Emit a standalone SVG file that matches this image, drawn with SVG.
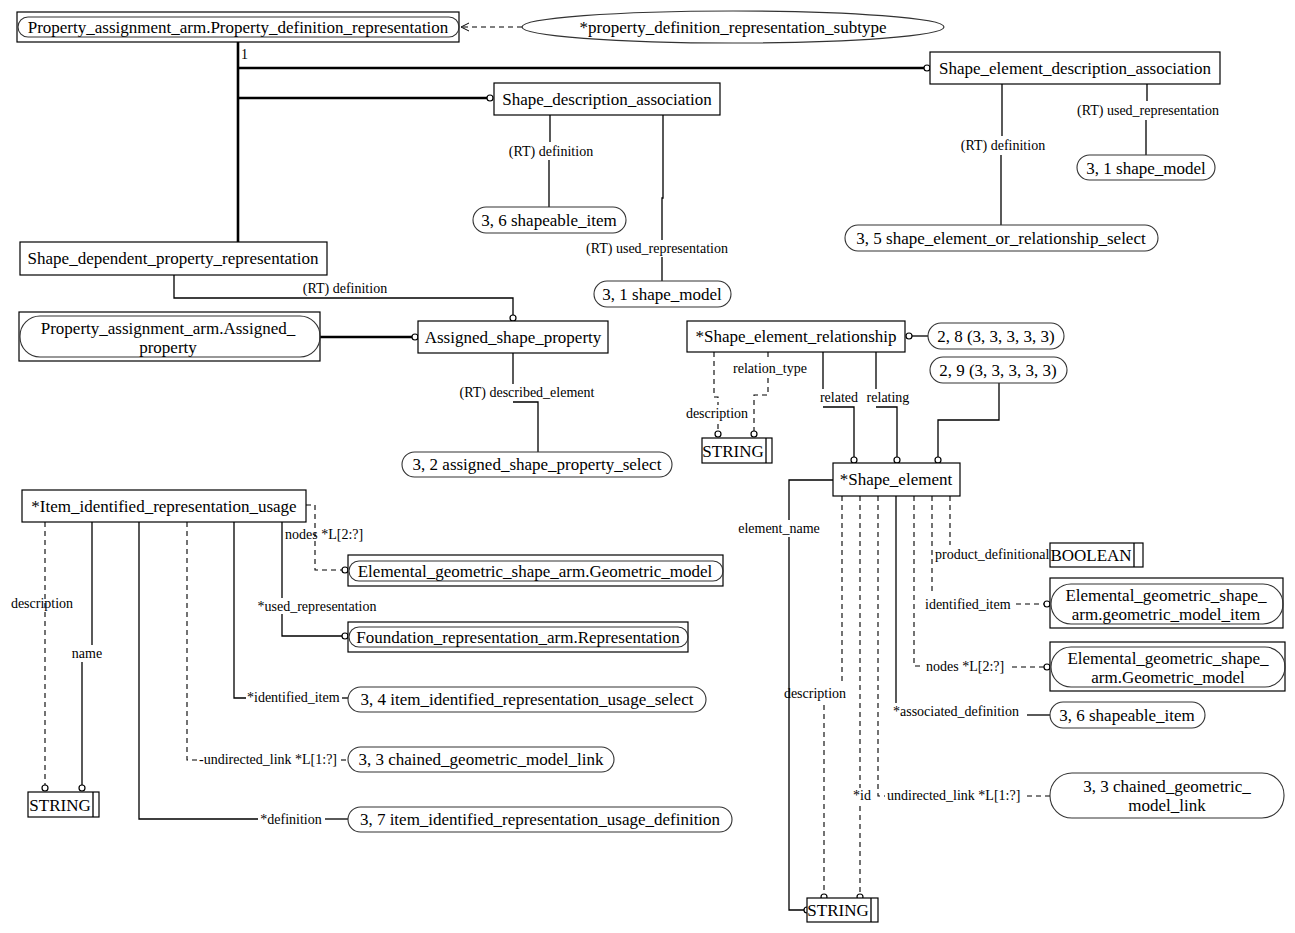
<svg xmlns="http://www.w3.org/2000/svg" width="1295" height="933" viewBox="0 0 1295 933">
<style>
.bg{fill:#fff}
.box{fill:#fff;stroke:#000;stroke-width:1.2}
.pill{fill:none;stroke:#333;stroke-width:1.1}
.t{font-family:"Liberation Serif","Times New Roman",serif;font-size:17px;text-anchor:middle;fill:#000}
.l{font-family:"Liberation Serif","Times New Roman",serif;font-size:14px;fill:#000}
.m{text-anchor:middle}
.s{stroke:#000;fill:none;stroke-width:1.3}
.th{stroke:#000;fill:none;stroke-width:2.6}
.d{stroke:#000;fill:none;stroke-width:1.1;stroke-dasharray:5,4}
.c{fill:#fff;stroke:#000;stroke-width:1.2}
</style>
<defs>
<marker id="arr" viewBox="0 0 10 10" refX="9" refY="5" markerWidth="10" markerHeight="10" orient="auto" markerUnits="userSpaceOnUse">
<path d="M1,1 L9,5 L1,9" fill="none" stroke="#000" stroke-width="1"/>
</marker>
</defs>
<rect class="bg" x="0" y="0" width="1295" height="933"/>

<g id="connectors">
<path class="d" d="M522,27 H461" marker-end="url(#arr)"/>
<path class="th" d="M238,42 V242"/>
<path class="th" d="M238,68 H924"/>
<circle class="c" cx="927" cy="68" r="3"/>
<path class="th" d="M238,98 H487"/>
<circle class="c" cx="490" cy="98" r="3"/>
<text class="l" x="241" y="59">1</text>

<path class="s" d="M550,115 V142"/>
<text class="l m" x="551" y="156">(RT) definition</text>
<path class="s" d="M549,160 V207"/>
<path class="s" d="M663,115 V198 H662 V240"/>
<text class="l m" x="657" y="253">(RT) used_representation</text>
<path class="s" d="M662,257 V281"/>

<path class="s" d="M1002,84 V136"/>
<text class="l m" x="1003" y="150">(RT) definition</text>
<path class="s" d="M1001,155 V225"/>
<path class="s" d="M1147,84 V101"/>
<text class="l m" x="1148" y="115">(RT) used_representation</text>
<path class="s" d="M1146,120 V155"/>

<path class="s" d="M174,275 V298 H513 V315"/>
<circle class="c" cx="513" cy="318" r="3"/>
<text class="l m" x="345" y="293">(RT) definition</text>
<path class="th" d="M320,337 H412"/>
<circle class="c" cx="415" cy="337" r="3"/>
<path class="s" d="M513,353 V384"/>
<text class="l m" x="527" y="397">(RT) described_element</text>
<path class="s" d="M513,402 H538 V452"/>

<circle class="c" cx="909" cy="336" r="3"/>
<path class="s" d="M912,336 H928"/>
<path class="d" d="M714,352 V397 H718 V405"/>
<text class="l m" x="717" y="418">description</text>
<path class="d" d="M718,424 V431"/>
<circle class="c" cx="718" cy="434" r="3"/>
<path class="d" d="M768,352 V361"/>
<text class="l m" x="770" y="373">relation_type</text>
<path class="d" d="M768,378 V395 H754 V431"/>
<circle class="c" cx="754" cy="434" r="3"/>
<path class="s" d="M823,352 V389"/>
<text class="l m" x="839" y="402">related</text>
<path class="s" d="M823,407 H854 V457"/>
<circle class="c" cx="854" cy="460" r="3"/>
<path class="s" d="M876,352 V389"/>
<text class="l m" x="888" y="402">relating</text>
<path class="s" d="M876,407 H897 V457"/>
<circle class="c" cx="897" cy="460" r="3"/>
<path class="s" d="M999,383 V420 H938 V457"/>
<circle class="c" cx="938" cy="460" r="3"/>

<path class="s" d="M833,480 H789 V520"/>
<text class="l m" x="779" y="533">element_name</text>
<path class="s" d="M789,537 V910 H804"/>
<circle class="c" cx="807" cy="910" r="3"/>
<path class="d" d="M842,496 V685"/>
<text class="l m" x="815" y="698">description</text>
<path class="d" d="M824,705 V894"/>
<circle class="c" cx="824" cy="897" r="3"/>
<path class="d" d="M860,496 V788"/>
<text class="l m" x="862" y="800">*id</text>
<path class="d" d="M860,806 V894"/>
<circle class="c" cx="860" cy="897" r="3"/>
<path class="d" d="M878,496 V796 H885"/>
<text class="l" x="887" y="800">undirected_link *L[1:?]</text>
<path class="d" d="M1027,796 H1050"/>
<path class="s" d="M896,496 V703"/>
<text class="l" x="893" y="716">*associated_definition</text>
<path class="s" d="M1027,715 H1050"/>
<path class="d" d="M914,496 V666 H921"/>
<text class="l" x="926" y="671">nodes *L[2:?]</text>
<path class="d" d="M1012,667 H1044"/>
<circle class="c" cx="1047" cy="667" r="3"/>
<path class="d" d="M932,496 V595"/>
<text class="l" x="925" y="609">identified_item</text>
<path class="d" d="M1016,604 H1044"/>
<circle class="c" cx="1047" cy="604" r="3"/>
<path class="d" d="M950,496 V545"/>
<text class="l" x="935" y="559">product_definitional</text>

<path class="d" d="M45,522 V785"/>
<circle class="c" cx="45" cy="788" r="3"/>
<text class="l m" x="42" y="608">description</text>
<path class="s" d="M92,522 V645"/>
<text class="l m" x="87" y="658">name</text>
<path class="s" d="M82,662 V785"/>
<circle class="c" cx="82" cy="788" r="3"/>
<path class="s" d="M139,522 V819 H258"/>
<text class="l m" x="291" y="824">*definition</text>
<path class="s" d="M325,819 H348"/>
<path class="d" d="M187,522 V760 H197"/>
<text class="l" x="199" y="764">-undirected_link *L[1:?]</text>
<path class="d" d="M341,760 H348"/>
<path class="s" d="M234,522 V698 H246"/>
<text class="l" x="247" y="702">*identified_item</text>
<path class="s" d="M342,698 H348"/>
<path class="s" d="M282,522 V598"/>
<text class="l m" x="317" y="611">*used_representation</text>
<path class="s" d="M282,614 V636 H342"/>
<circle class="c" cx="345" cy="636" r="3"/>
<path class="d" d="M306,505 H315 V570 H342"/>
<circle class="c" cx="345" cy="570" r="3"/>
<text class="l" x="285" y="539">nodes *L[2:?]</text>
</g>

<g id="n_pdr">
<rect class="box" x="17" y="12" width="442" height="30"/>
<rect class="pill" x="18" y="17" width="441" height="20" rx="10"/>
<text class="t" x="238" y="33">Property_assignment_arm.Property_definition_representation</text>
</g>
<g id="n_subtype">
<ellipse class="box" cx="733" cy="27" rx="211" ry="16" style="stroke:#333"/>
<text class="t" x="733" y="33">*property_definition_representation_subtype</text>
</g>
<g id="n_seda">
<rect class="box" x="930" y="52" width="290" height="32"/>
<text class="t" x="1075" y="74">Shape_element_description_association</text>
</g>
<g id="n_sda">
<rect class="box" x="494" y="83" width="226" height="32"/>
<text class="t" x="607" y="105">Shape_description_association</text>
</g>
<g id="n_si1">
<rect class="pill" x="473" y="207" width="153" height="26" rx="13"/>
<text class="t" x="549" y="226">3, 6 shapeable_item</text>
</g>
<g id="n_sm1">
<rect class="pill" x="594" y="281" width="137" height="26" rx="13"/>
<text class="t" x="662" y="300">3, 1 shape_model</text>
</g>
<g id="n_sm2">
<rect class="pill" x="1077" y="155" width="138" height="25" rx="12.5"/>
<text class="t" x="1146" y="174">3, 1 shape_model</text>
</g>
<g id="n_seors">
<rect class="pill" x="845" y="225" width="313" height="26" rx="13"/>
<text class="t" x="1001" y="244">3, 5 shape_element_or_relationship_select</text>
</g>
<g id="n_sdpr">
<rect class="box" x="20" y="242" width="307" height="33"/>
<text class="t" x="173" y="264">Shape_dependent_property_representation</text>
</g>
<g id="n_pap">
<rect class="box" x="19" y="312" width="301" height="49"/>
<rect class="pill" x="20" y="316" width="300" height="41" rx="20"/>
<text class="t" x="168" y="334">Property_assignment_arm.Assigned_</text>
<text class="t" x="168" y="353">property</text>
</g>
<g id="n_asp">
<rect class="box" x="418" y="321" width="190" height="32"/>
<text class="t" x="513" y="343">Assigned_shape_property</text>
</g>
<g id="n_asps">
<rect class="pill" x="402" y="452" width="270" height="25" rx="12.5"/>
<text class="t" x="537" y="470">3, 2 assigned_shape_property_select</text>
</g>
<g id="n_ser">
<rect class="box" x="687" y="321" width="218" height="31"/>
<text class="t" x="796" y="342">*Shape_element_relationship</text>
</g>
<g id="n_28">
<rect class="pill" x="928" y="323" width="136" height="26" rx="13"/>
<text class="t" x="996" y="342">2, 8 (3, 3, 3, 3, 3)</text>
</g>
<g id="n_29">
<rect class="pill" x="930" y="357" width="137" height="26" rx="13"/>
<text class="t" x="998" y="376">2, 9 (3, 3, 3, 3, 3)</text>
</g>
<g id="n_str1">
<rect class="box" x="702" y="438" width="70" height="25"/>
<line class="s" x1="766" y1="438" x2="766" y2="463"/>
<text class="t" x="733" y="457">STRING</text>
</g>
<g id="n_se">
<rect class="box" x="833" y="463" width="127" height="33"/>
<text class="t" x="896" y="485">*Shape_element</text>
</g>
<g id="n_bool">
<rect class="box" x="1050" y="543" width="93" height="24"/>
<line class="s" x1="1134" y1="543" x2="1134" y2="567"/>
<text class="t" x="1091" y="561">BOOLEAN</text>
</g>
<g id="n_gmi">
<rect class="box" x="1050" y="578" width="233" height="50"/>
<rect class="pill" x="1051" y="584" width="232" height="40" rx="20"/>
<text class="t" x="1166" y="601">Elemental_geometric_shape_</text>
<text class="t" x="1166" y="620">arm.geometric_model_item</text>
</g>
<g id="n_gm2">
<rect class="box" x="1050" y="642" width="235" height="49"/>
<rect class="pill" x="1051" y="647" width="234" height="40" rx="20"/>
<text class="t" x="1168" y="664">Elemental_geometric_shape_</text>
<text class="t" x="1168" y="683">arm.Geometric_model</text>
</g>
<g id="n_si2">
<rect class="pill" x="1050" y="702" width="155" height="26" rx="13"/>
<text class="t" x="1127" y="721">3, 6 shapeable_item</text>
</g>
<g id="n_cgml2">
<rect class="pill" x="1050" y="773" width="234" height="45" rx="22"/>
<text class="t" x="1167" y="792">3, 3 chained_geometric_</text>
<text class="t" x="1167" y="811">model_link</text>
</g>
<g id="n_str2">
<rect class="box" x="807" y="898" width="71" height="24"/>
<line class="s" x1="871" y1="898" x2="871" y2="922"/>
<text class="t" x="838" y="916">STRING</text>
</g>
<g id="n_iiru">
<rect class="box" x="22" y="490" width="284" height="32"/>
<text class="t" x="164" y="512">*Item_identified_representation_usage</text>
</g>
<g id="n_str3">
<rect class="box" x="28" y="792" width="71" height="25"/>
<line class="s" x1="93" y1="792" x2="93" y2="817"/>
<text class="t" x="60" y="811">STRING</text>
</g>
<g id="n_gm1">
<rect class="box" x="348" y="555" width="375" height="31"/>
<rect class="pill" x="349" y="561" width="374" height="20" rx="10"/>
<text class="t" x="535" y="577">Elemental_geometric_shape_arm.Geometric_model</text>
</g>
<g id="n_frr">
<rect class="box" x="348" y="622" width="340" height="30"/>
<rect class="pill" x="349" y="627" width="339" height="20" rx="10"/>
<text class="t" x="518" y="643">Foundation_representation_arm.Representation</text>
</g>
<g id="n_iirus">
<rect class="pill" x="348" y="687" width="358" height="25" rx="12.5"/>
<text class="t" x="527" y="705">3, 4 item_identified_representation_usage_select</text>
</g>
<g id="n_cgml1">
<rect class="pill" x="348" y="747" width="266" height="25" rx="12.5"/>
<text class="t" x="481" y="765">3, 3 chained_geometric_model_link</text>
</g>
<g id="n_iirud">
<rect class="pill" x="348" y="807" width="384" height="25" rx="12.5"/>
<text class="t" x="540" y="825">3, 7 item_identified_representation_usage_definition</text>
</g>
</svg>
